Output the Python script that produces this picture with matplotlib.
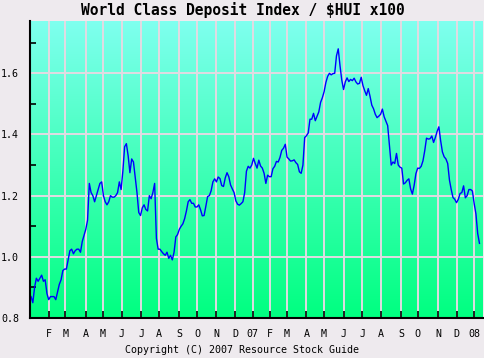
import numpy as np
import pandas as pd
import matplotlib
matplotlib.use("Agg")
import matplotlib.pyplot as plt
from matplotlib.colors import LinearSegmentedColormap

# ---------------- data ----------------
title = "World Class Deposit Index / $HUI x100"
footer = "Copyright (C) 2007 Resource Stock Guide"
first_session = "2006-01-03"
sample_every = 2  # one reading every 2 trading sessions
market_holidays = [
    "2006-01-02", "2006-01-16", "2006-02-20", "2006-04-14", "2006-05-29",
    "2006-07-04", "2006-09-04", "2006-11-23", "2006-12-25",
    "2007-01-01", "2007-01-02", "2007-01-15", "2007-02-19", "2007-04-06",
    "2007-05-28", "2007-07-04", "2007-09-03", "2007-11-22", "2007-12-25",
    "2008-01-01", "2008-01-21",
]
wcd_index = [
    0.87, 0.85, 0.90, 0.93, 0.92, 0.93, 0.94, 0.92, 0.925, 0.88,
    0.86, 0.87, 0.87, 0.87, 0.86, 0.885, 0.91, 0.925, 0.955, 0.96,
    0.96, 0.99, 1.02, 1.025, 1.01, 1.02, 1.025, 1.025, 1.015, 1.05,
    1.07, 1.09, 1.12, 1.24, 1.21, 1.20, 1.18, 1.20, 1.22, 1.24,
    1.245, 1.20, 1.18, 1.17, 1.18, 1.20, 1.195, 1.195, 1.20, 1.21,
    1.245, 1.22, 1.28, 1.36, 1.37, 1.33, 1.275, 1.32, 1.31, 1.26,
    1.21, 1.145, 1.135, 1.16, 1.17, 1.155, 1.15, 1.20, 1.19, 1.21,
    1.24, 1.06, 1.025, 1.025, 1.017, 1.01, 1.005, 1.015, 0.995, 1.005,
    0.99, 1.015, 1.065, 1.073, 1.09, 1.10, 1.108, 1.125, 1.15, 1.18,
    1.187, 1.175, 1.175, 1.163, 1.163, 1.17, 1.154, 1.134, 1.135, 1.165,
    1.197, 1.20, 1.216, 1.245, 1.255, 1.245, 1.261, 1.256, 1.233, 1.23,
    1.258, 1.275, 1.262, 1.235, 1.222, 1.21, 1.183, 1.172, 1.169, 1.174,
    1.18, 1.21, 1.28, 1.296, 1.29, 1.30, 1.322, 1.305, 1.29, 1.316,
    1.297, 1.29, 1.273, 1.24, 1.267, 1.262, 1.262, 1.288, 1.296, 1.312,
    1.31, 1.325, 1.348, 1.355, 1.368, 1.326, 1.32, 1.313, 1.314, 1.317,
    1.308, 1.302, 1.278, 1.273, 1.30, 1.39, 1.396, 1.405, 1.45, 1.45,
    1.469, 1.445, 1.46, 1.474, 1.505, 1.52, 1.54, 1.57, 1.59, 1.60,
    1.595, 1.599, 1.60, 1.657, 1.68, 1.625, 1.578, 1.547, 1.572, 1.585,
    1.573, 1.58, 1.576, 1.584, 1.572, 1.565, 1.567, 1.587, 1.56, 1.543,
    1.528, 1.55, 1.525, 1.496, 1.484, 1.466, 1.455, 1.46, 1.466, 1.483,
    1.458, 1.443, 1.429, 1.365, 1.30, 1.31, 1.305, 1.338, 1.30, 1.293,
    1.29, 1.238, 1.242, 1.25, 1.255, 1.222, 1.205, 1.234, 1.272, 1.29,
    1.289, 1.296, 1.314, 1.347, 1.388, 1.385, 1.386, 1.395, 1.374, 1.39,
    1.41, 1.425, 1.38, 1.343, 1.327, 1.32, 1.305, 1.251, 1.22, 1.194,
    1.188, 1.177, 1.188, 1.207, 1.21, 1.232, 1.193, 1.20, 1.22, 1.22,
    1.215, 1.174, 1.14, 1.076, 1.044,
]
y_major = [0.8, 1.0, 1.2, 1.4, 1.6]
y_minor = [0.9, 1.1, 1.3, 1.5, 1.7]

# ---------------- calendar ----------------
sessions = pd.bdate_range(first_session, "2008-01-31", freq="C",
                          holidays=market_holidays)
sample_dates = sessions[::sample_every][:len(wcd_index)]
x_data = sessions.get_indexer(sample_dates)

month_first = pd.Series(np.arange(len(sessions)), index=sessions)
month_first = month_first.groupby([sessions.year, sessions.month]).first()
tick_pos, tick_lab = [], []
for (yr, mo), idx in month_first.items():
    if (yr, mo) == (2006, 1) or (yr, mo) > (2008, 1):
        continue
    tick_pos.append(idx)
    tick_lab.append(f"{yr % 100:02d}" if mo == 1 else "JFMAMJJASOND"[mo - 1])

# ---------------- figure ----------------
W, H = 485, 358
fig = plt.figure(figsize=(W / 100, H / 100), dpi=100, facecolor="#EEEAEE")
ax = fig.add_axes([30 / W, 40 / H, 453 / W, 297 / H])
ax.set_facecolor("#00FF88")

xlim = (-1.2, 512)
ylim = (0.8, 1.771)
cmap = LinearSegmentedColormap.from_list("bg", ["#00FF80", "#7FFFEF"])
grad = np.linspace(0, 1, 256).reshape(-1, 1)
ax.imshow(grad, cmap=cmap, origin="lower", aspect="auto",
          extent=[xlim[0], xlim[1], ylim[0], ylim[1]], zorder=0)

grid_col = "#E2DAE2"
for xp in tick_pos:
    ax.axvline(xp, color=grid_col, lw=1.4, zorder=1)
for yv in y_major[1:]:
    ax.axhline(yv, color=grid_col, lw=1.4, zorder=1)

ax.plot(x_data, wcd_index, color="#0000FF", lw=1.0, zorder=3)

ax.set_xlim(*xlim)
ax.set_ylim(*ylim)

mono = "DejaVu Sans Mono"
ax.set_xticks(tick_pos)
ax.set_xticklabels(tick_lab, fontfamily=mono, fontsize=7.2)
ax.set_yticks(y_major)
ax.set_yticklabels([f"{v:.1f}" for v in y_major], fontfamily=mono, fontsize=7.2)
ax.set_yticks(y_minor, minor=True)

ax.tick_params(axis="x", direction="in", length=5, width=1.2, color="black",
               pad=8, top=False)
ax.tick_params(axis="y", which="major", direction="in", length=0, pad=8)
ax.tick_params(axis="y", which="minor", direction="in", length=4, width=1.2,
               color="black")

for side in ("top", "right"):
    ax.spines[side].set_visible(False)
for side in ("left", "bottom"):
    ax.spines[side].set_color("black")
    ax.spines[side].set_linewidth(1.5)
    ax.spines[side].set_zorder(4)

fig.text(0.5, 1 - 10 / H, title, ha="center", va="center",
         fontfamily=mono, fontweight="bold", fontsize=10.5)
fig.text(0.5, 1 - 350 / H, footer, ha="center", va="center",
         fontfamily=mono, fontsize=7.2)

fig.savefig("out.png", dpi=100, facecolor=fig.get_facecolor())
